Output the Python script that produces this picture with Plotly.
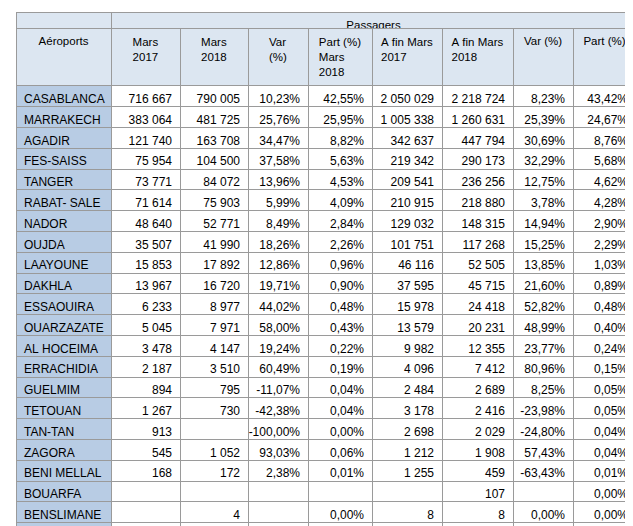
import plotly.graph_objects as go

aeroports = ["CASABLANCA","MARRAKECH","AGADIR","FES-SAISS","TANGER","RABAT- SALE","NADOR","OUJDA","LAAYOUNE","DAKHLA","ESSAOUIRA","OUARZAZATE","AL HOCEIMA","ERRACHIDIA","GUELMIM","TETOUAN","TAN-TAN","ZAGORA","BENI MELLAL","BOUARFA","BENSLIMANE","<b>TOTAL</b>"]
mars2017 = ["716 667","383 064","121 740","75 954","73 771","71 614","48 640","35 507","15 853","13 967","6 233","5 045","3 478","2 187","894","1 267","913","545","168","","","<b>1 577 507</b>"]
mars2018 = ["790 005","481 725","163 708","104 500","84 072","75 903","52 771","41 990","17 892","16 720","8 977","7 971","4 147","3 510","795","730","","1 052","172","","4","<b>1 856 644</b>"]
var_mois = ["10,23%","25,76%","34,47%","37,58%","13,96%","5,99%","8,49%","18,26%","12,86%","19,71%","44,02%","58,00%","19,24%","60,49%","-11,07%","-42,38%","-100,00%","93,03%","2,38%","","","<b>17,69%</b>"]
part_mois = ["42,55%","25,95%","8,82%","5,63%","4,53%","4,09%","2,84%","2,26%","0,96%","0,90%","0,48%","0,43%","0,22%","0,19%","0,04%","0,04%","0,00%","0,06%","0,01%","","0,00%","<b>100%</b>"]
cumul2017 = ["2 050 029","1 005 338","342 637","219 342","209 541","210 915","129 032","101 751","46 116","37 595","15 978","13 579","9 982","4 096","2 484","3 178","2 698","1 212","1 255","","8","<b>4 406 766</b>"]
cumul2018 = ["2 218 724","1 260 631","447 794","290 173","236 256","218 880","148 315","117 268","52 505","45 715","24 418","20 231","12 355","7 412","2 689","2 416","2 029","1 908","459","107","8","<b>5 110 293</b>"]
var_cumul = ["8,23%","25,39%","30,69%","32,29%","12,75%","3,78%","14,94%","15,25%","13,85%","21,60%","52,82%","48,99%","23,77%","80,96%","8,25%","-23,98%","-24,80%","57,43%","-63,43%","","0,00%","<b>15,96%</b>"]
part_cumul = ["43,42%","24,67%","8,76%","5,68%","4,62%","4,28%","2,90%","2,29%","1,03%","0,89%","0,48%","0,40%","0,24%","0,15%","0,05%","0,05%","0,04%","0,04%","0,01%","0,00%","0,00%","<b>100%</b>"]
headers = ["Aéroports","Mars<br>2017","Mars<br>2018","Var<br>(%)","Part (%)<br>Mars<br>2018","A fin Mars<br>2017","A fin Mars<br>2018","Var (%)","Part (%)"]

nb = lambda lst: [s.replace(" ", "\u00a0") for s in lst]

W, H = 633, 526
widths = [95, 69, 68, 60, 64, 70, 71, 60, 63]
x0, x1 = 8/W, 628/W
line = dict(color="#9a9a9a", width=1)
font = dict(family="Liberation Sans, Arial", size=12, color="#000")
hfont = dict(family="Liberation Sans, Arial", size=11.5, color="#000")
blue = "#b8cce4"
hdr = "#dce6f1"

fig = go.Figure()
fig.add_trace(go.Table(
    domain=dict(x=[x0, x1], y=[0, 1 - 20/H]),
    columnwidth=widths,
    header=dict(values=nb(headers), fill_color=hdr, line=line, font=hfont,
                align="center", height=43),
    cells=dict(values=[nb(v) for v in [aeroports, mars2017, mars2018, var_mois, part_mois,
                       cumul2017, cumul2018, var_cumul, part_cumul]],
               fill_color=[[blue]*22] + [["white"]*22]*8, line=line, font=font,
               align=["left"] + ["right"]*8, height=20.8),
))
fig.add_trace(go.Table(
    domain=dict(x=[x0, x1], y=[1 - 20/H, 1 - 4/H]),
    columnwidth=[95, 525],
    header=dict(values=["", "Passagers"], fill_color=hdr, line=line, font=hfont,
                align="center", height=16),
    cells=dict(values=[[], []], height=1),
))
fig.update_layout(width=W, height=H, margin=dict(l=0, r=0, t=0, b=0),
                  paper_bgcolor="white")
fig.write_html("out.html")
